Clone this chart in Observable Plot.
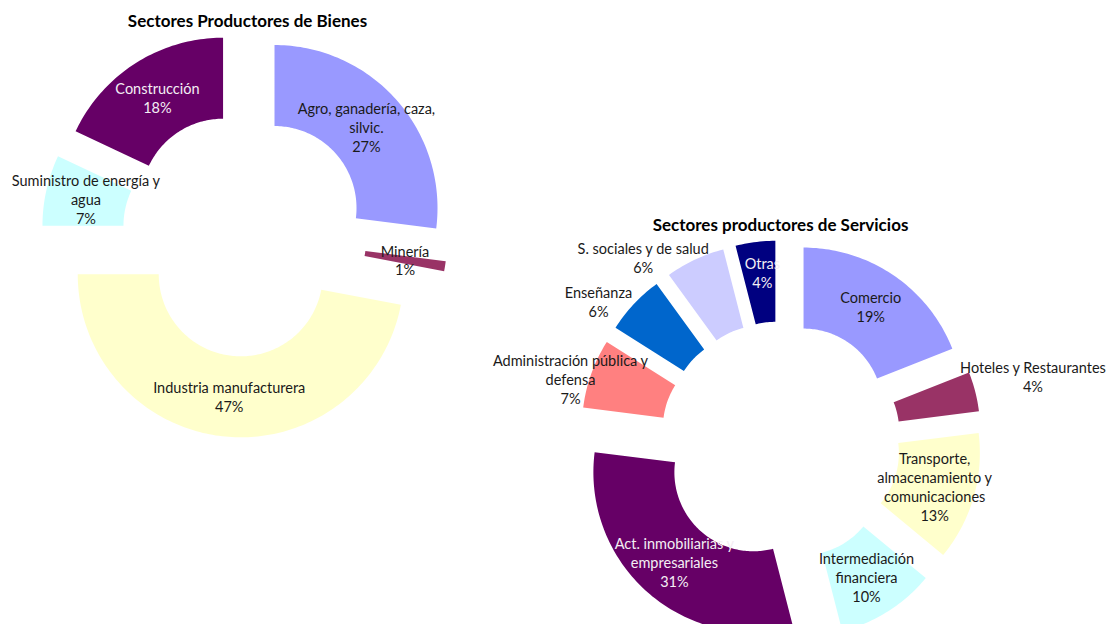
<!DOCTYPE html>
<html><head><meta charset="utf-8">
<script src="https://cdn.jsdelivr.net/npm/d3@7"></script>
<script src="https://cdn.jsdelivr.net/npm/@observablehq/plot@0.6"></script>
<style>body{margin:0;background:#fff;overflow:hidden}</style>
</head><body><div id="chart"></div>
<script>
// ---- data ----
const titulos = ["Sectores Productores de Bienes", "Sectores productores de Servicios"];

const bienesSectores = ["Agro, ganadería, caza,\nsilvic.", "Minería", "Industria manufacturera", "Suministro de energía y\nagua", "Construcción"];
const bienesValores = [27, 1, 47, 7, 18];
const bienesColores = ["#9999FF", "#993366", "#FFFFCC", "#CCFFFF", "#660066"];

const serviciosSectores = ["Comercio", "Hoteles y Restaurantes", "Transporte,\nalmacenamiento y\ncomunicaciones", "Intermediación\nfinanciera", "Act. inmobiliarias y\nempresariales", "Administración pública y\ndefensa", "Enseñanza", "S. sociales y de salud", "Otras"];
const serviciosValores = [19, 4, 13, 10, 31, 7, 6, 6, 4];
const serviciosColores = ["#9999FF", "#993366", "#FFFFCC", "#CCFFFF", "#660066", "#FF8080", "#0066CC", "#CCCCFF", "#000080"];

// ---- layout (positions / sizes / styles) ----
const layout = [
  {cx: 244, cy: 234, R: 163, r: 82, explode: 40, titleX: 247, titleY: 21},
  {cx: 780, cy: 441, R: 160, r: 79, explode: 41, titleX: 780, titleY: 225}
];
const labelNudge = {
  "Hoteles y Restaurantes": [97, -25],
  "Administración pública y\ndefensa": [-59, -8],
  "Enseñanza": [-65, -30],
  "S. sociales y de salud": [-69, -39],
  "Otras": [2, -10],
  "Comercio": [0, -2]
};
const darkFill = new Set(["#660066", "#000080"]);

function buildDonut(names, values, colors, L, key) {
  const arcs = d3.pie().sort(null).value(d => d)(values);
  const poly = [], labels = [];
  arcs.forEach((a, i) => {
    const mid = (a.startAngle + a.endAngle) / 2;
    const dx = L.explode * Math.sin(mid), dy = -L.explode * Math.cos(mid);
    const n = Math.max(2, Math.ceil((a.endAngle - a.startAngle) / 0.02));
    const pts = [];
    for (let k = 0; k <= n; k++) {
      const t = a.startAngle + (a.endAngle - a.startAngle) * k / n;
      pts.push([L.cx + L.R * Math.sin(t) + dx, L.cy - L.R * Math.cos(t) + dy]);
    }
    for (let k = n; k >= 0; k--) {
      const t = a.startAngle + (a.endAngle - a.startAngle) * k / n;
      pts.push([L.cx + L.r * Math.sin(t) + dx, L.cy - L.r * Math.cos(t) + dy]);
    }
    pts.forEach(p => poly.push({id: key + i, x: p[0], y: p[1], color: colors[i]}));
    const rc = (L.R + L.r) / 2;
    const nd = labelNudge[names[i]] || [0, 0];
    labels.push({
      x: L.cx + rc * Math.sin(mid) + dx + nd[0],
      y: L.cy - rc * Math.cos(mid) + dy + nd[1],
      text: names[i] + "\n" + values[i] + "%",
      color: darkFill.has(colors[i]) ? "#f4eef4" : "#1a1a1a"
    });
  });
  return {poly, labels};
}

const b = buildDonut(bienesSectores, bienesValores, bienesColores, layout[0], "b");
const s = buildDonut(serviciosSectores, serviciosValores, serviciosColores, layout[1], "s");
const polys = b.poly.concat(s.poly);
const labels = b.labels.concat(s.labels);
const titles = titulos.map((t, i) => ({x: layout[i].titleX, y: layout[i].titleY, text: t}));

const chart = Plot.plot({
  width: 1108, height: 624, margin: 0,
  x: {domain: [0, 1108], range: [0, 1108], axis: null},
  y: {domain: [0, 624], range: [0, 624], axis: null},
  color: {type: "identity"},
  style: {fontFamily: "Lato, 'Open Sans', sans-serif", background: "#fff"},
  marks: [
    Plot.line(polys, {x: "x", y: "y", z: "id", fill: "color", stroke: "none", curve: "linear-closed"}),
    Plot.text(labels, {x: "x", y: "y", text: "text", fill: "color", fontSize: 14.5, lineHeight: 1.31}),
    Plot.text(titles, {x: "x", y: "y", text: "text", fontWeight: "bold", fontSize: 17, fill: "#000"})
  ]
});
document.getElementById("chart").appendChild(chart);
</script>
</body></html>
